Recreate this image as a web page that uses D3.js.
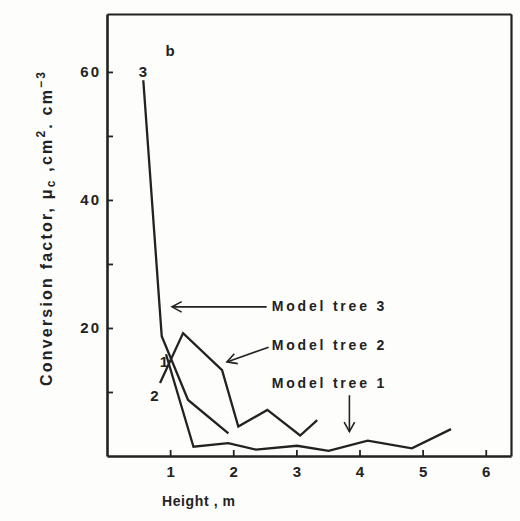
<!DOCTYPE html>
<html>
<head>
<meta charset="utf-8">
<script src="https://cdn.jsdelivr.net/npm/d3@7"></script>
<style>
  body { margin: 0; background: #fdfdfc; overflow: hidden; }
  svg { display: block; }
  text { font-family: "Liberation Sans", Arial, sans-serif; font-weight: bold; fill: #222; }
</style>
</head>
<body>
<svg id="chart" width="520" height="521"></svg>
<script>
// values (height in m, conversion factor)
const tree1X = [0.935, 1.37, 1.92, 2.36, 3.01, 3.51, 4.13, 4.83, 5.45];
const tree1Y = [15.9, 1.45, 2.0, 1.0, 1.6, 0.8, 2.4, 1.2, 4.2];
const tree2X = [0.84, 1.205, 1.823, 2.08, 2.54, 3.06, 3.33];
const tree2Y = [11.4, 19.2, 13.4, 4.6, 7.2, 3.2, 5.6];
const tree3X = [0.575, 0.867, 1.284, 1.923];
const tree3Y = [58.7, 18.7, 8.75, 3.55];

const xTicks = [1, 2, 3, 4, 5, 6];
const yTicks = [10, 20, 30, 40, 50, 60];
const yLabelled = [20, 40, 60];

// callout labels with their arrows, in data units
const callouts = [
  { text: "Model tree 3", tx: 2.61, ty: 22.7, from: [2.53, 23.3], to: [1.03, 23.3] },
  { text: "Model tree 2", tx: 2.61, ty: 16.6, from: [2.56, 17.0], to: [1.90, 14.7] },
  { text: "Model tree 1", tx: 2.61, ty: 10.6, from: [3.84, 9.5], to: [3.84, 3.8] }
];
const curveTags = [
  { text: "3", x: 0.57, y: 59.2 },
  { text: "1", x: 0.9, y: 13.9 },
  { text: "2", x: 0.75, y: 8.6 },
  { text: "b", x: 1.0, y: 62.5 }
];

const width = 520, height = 521;
const margin = { top: 14, right: 9, bottom: 65, left: 107 };
const xMax = 6.40, yMax = 69.05;

const svg = d3.select("#chart");

const x = d3.scaleLinear()
    .domain([0, xMax])
    .range([margin.left, width - margin.right]);

const y = d3.scaleLinear()
    .domain([0, yMax])
    .range([height - margin.bottom, margin.top]);

const ink = "#222";
const x0 = x(0), x1 = x(xMax), y0 = y(0), y1 = y(yMax);

// top and right edges of the frame as extra axes without labels
svg.append("g")
    .attr("transform", `translate(0,${y1})`)
    .call(d3.axisTop(x).tickValues([]).tickSizeOuter(0))
    .call(g => g.select(".domain").attr("stroke", ink).attr("stroke-width", 2.2));
svg.append("g")
    .attr("transform", `translate(${x1},0)`)
    .call(d3.axisRight(y).tickValues([]).tickSizeOuter(0))
    .call(g => g.select(".domain").attr("stroke", ink).attr("stroke-width", 2.2));

const xAxis = g => g
    .attr("transform", `translate(0,${y0})`)
    .call(d3.axisBottom(x).tickValues(xTicks).tickSize(-6).tickSizeOuter(0).tickPadding(10).tickFormat(d3.format("d")))
    .call(g => g.select(".domain").attr("stroke", ink).attr("stroke-width", 2.6))
    .call(g => g.selectAll(".tick line").attr("stroke", ink).attr("stroke-width", 1.8))
    .call(g => g.selectAll(".tick text").attr("font-size", 15).attr("fill", "#222"));

const yAxis = g => g
    .attr("transform", `translate(${x0},0)`)
    .call(d3.axisLeft(y).tickValues(yTicks).tickSize(-6).tickSizeOuter(0).tickPadding(6)
        .tickFormat(d => yLabelled.includes(d) ? d : ""))
    .call(g => g.select(".domain").attr("stroke", ink).attr("stroke-width", 2.6))
    .call(g => g.selectAll(".tick line").attr("stroke", ink).attr("stroke-width", 1.8))
    .call(g => g.selectAll(".tick text").attr("font-size", 15).attr("letter-spacing", 2).attr("fill", "#222"));

svg.append("g").call(xAxis);
svg.append("g").call(yAxis);

const line = d3.line()
    .x(d => x(d[0]))
    .y(d => y(d[1]));

[[tree1X, tree1Y], [tree2X, tree2Y], [tree3X, tree3Y]].forEach(([xs, ys]) => {
  svg.append("path")
      .datum(xs.map((v, i) => [v, ys[i]]))
      .attr("fill", "none")
      .attr("stroke", ink)
      .attr("stroke-width", 2.3)
      .attr("stroke-linejoin", "miter")
      .attr("d", line);
});

// callouts
callouts.forEach(c => {
  const ax = x(c.from[0]), ay = y(c.from[1]), bx = x(c.to[0]), by = y(c.to[1]);
  svg.append("line")
      .attr("x1", ax).attr("y1", ay).attr("x2", bx).attr("y2", by)
      .attr("stroke", ink).attr("stroke-width", 1.6);
  const a = Math.atan2(by - ay, bx - ax), len = 11, spread = 0.5;
  svg.append("path")
      .attr("d", `M${bx - len * Math.cos(a - spread)},${by - len * Math.sin(a - spread)}L${bx},${by}L${bx - len * Math.cos(a + spread)},${by - len * Math.sin(a + spread)}`)
      .attr("fill", "none").attr("stroke", ink).attr("stroke-width", 1.6);
  svg.append("text")
      .attr("x", x(c.tx)).attr("y", y(c.ty))
      .attr("font-size", 14).attr("letter-spacing", 2.8)
      .text(c.text);
});

svg.selectAll(".tag")
  .data(curveTags)
  .join("text")
    .attr("class", "tag")
    .attr("x", d => x(d.x)).attr("y", d => y(d.y))
    .attr("text-anchor", "middle")
    .attr("font-size", 15)
    .text(d => d.text);

// axis titles
svg.append("text")
    .attr("x", 162).attr("y", 506)
    .attr("font-size", 14).attr("letter-spacing", 0.6)
    .text("Height , m");

const yTitle = svg.append("text")
    .attr("transform", "translate(52,386) rotate(-90)")
    .attr("font-size", 16).attr("letter-spacing", 2.2);
yTitle.append("tspan").text("Conversion  factor, \u03bc");
yTitle.append("tspan").attr("font-size", 12).attr("dy", 3).text("c");
yTitle.append("tspan").attr("dy", -3).text(" ,cm");
yTitle.append("tspan").attr("font-size", 12).attr("dy", -7).text("2");
yTitle.append("tspan").attr("dy", 7).text(". cm");
yTitle.append("tspan").attr("font-size", 12).attr("dy", -7).text("\u22123");
</script>
</body>
</html>
